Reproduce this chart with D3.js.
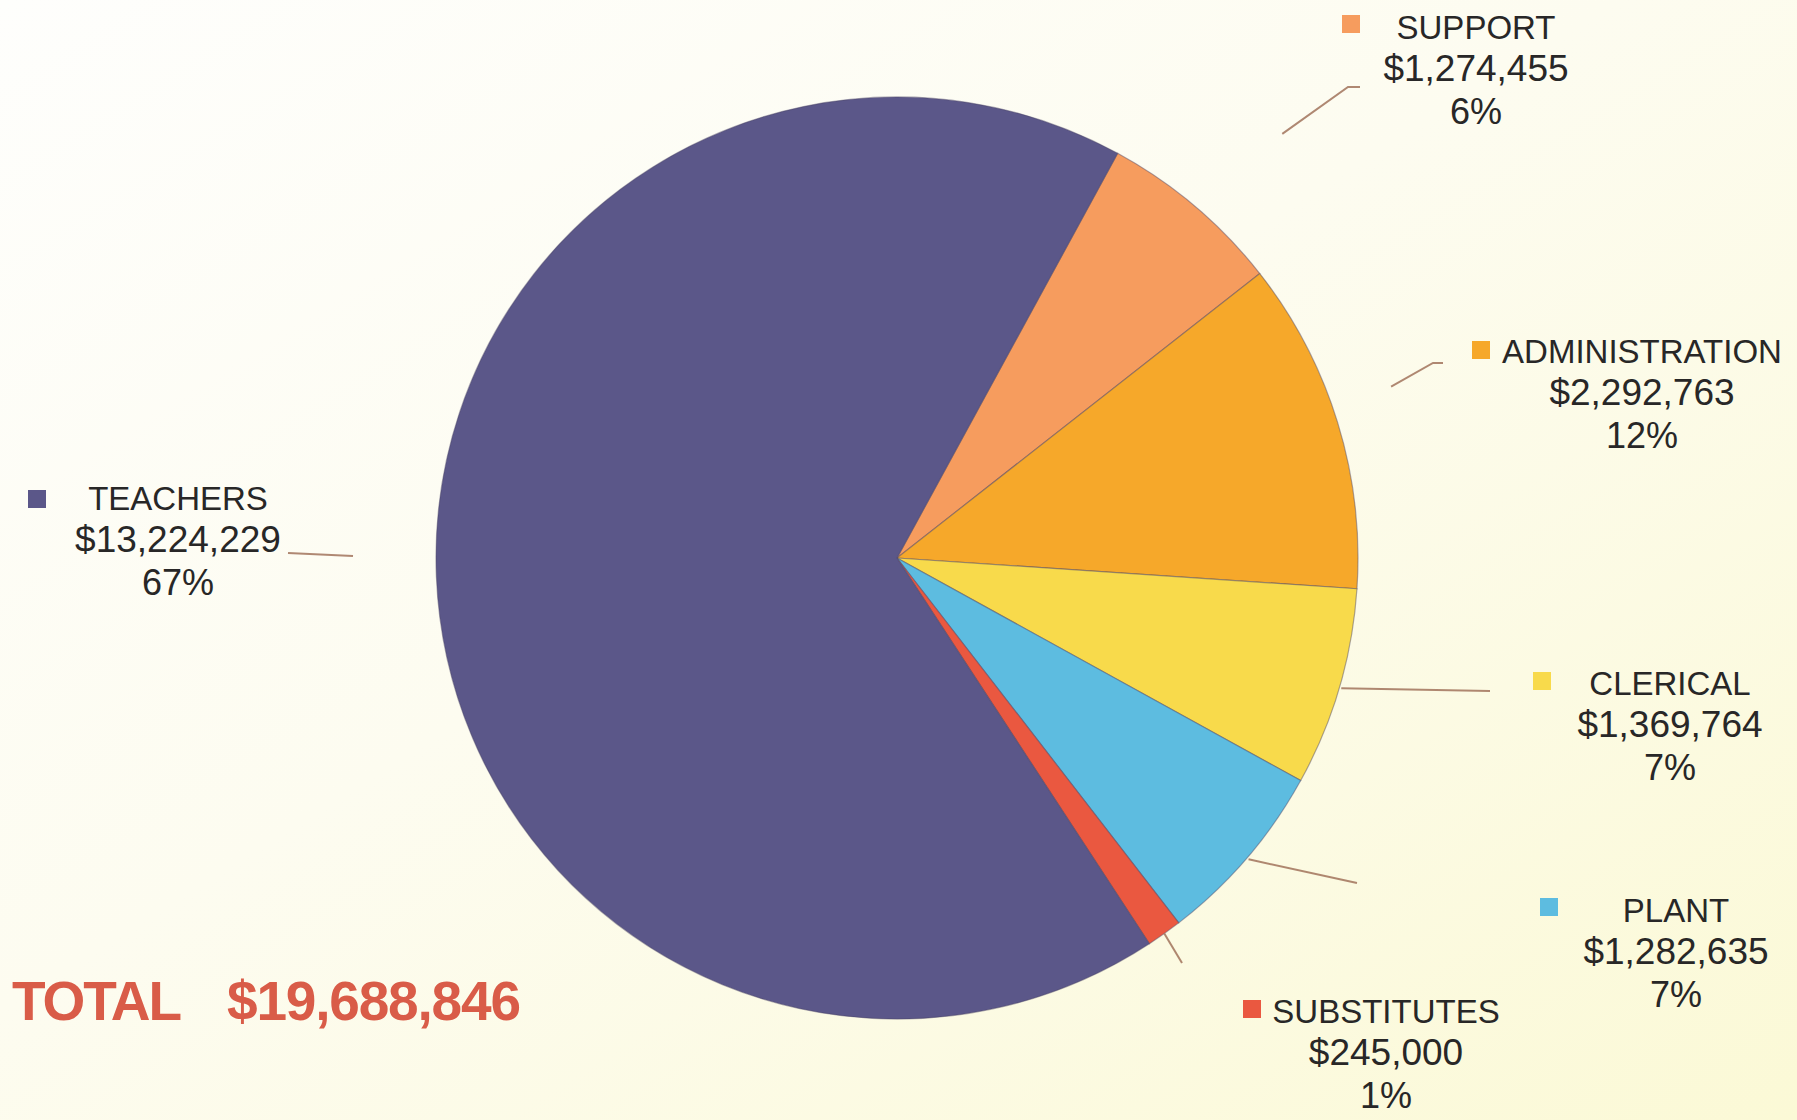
<!DOCTYPE html>
<html>
<head>
<meta charset="utf-8">
<script src="https://cdn.jsdelivr.net/npm/d3@7"></script>
<style>
  html, body { margin: 0; padding: 0; overflow: hidden; }
  body { width: 1797px; height: 1120px; }
</style>
</head>
<body>
<div id="chart"></div>
<script>
// Data (pie order, clockwise)
var categories = ["SUPPORT", "ADMINISTRATION", "CLERICAL", "PLANT", "SUBSTITUTES", "TEACHERS"];
var amounts = [1274455, 2292763, 1369764, 1282635, 245000, 13224229];
var pctLabels = ["6%", "12%", "7%", "7%", "1%", "67%"];
var sliceColors = ["#f69c5e", "#f6a82a", "#f8da4b", "#5dbce0", "#ea5840", "#5b5789"];
var totalLabel = "TOTAL";
var totalAmount = 19688846;

// Label layout (centre x, first baseline, legend square, leader start radius/angle shift, leader end points)
var labelLayout = [
  { cx: 1476, y: 39,   sq: [1342, 15],   r0: 573, da: 2,   pts: [[1348, 87], [1360, 87]] },
  { cx: 1642, y: 363,  sq: [1472, 341],  r0: 523, da: -2,  pts: [[1433, 363], [1443, 363]] },
  { cx: 1670, y: 695,  sq: [1533, 672],  r0: 463, da: 0,   pts: [[1490, 691]] },
  { cx: 1676, y: 922,  sq: [1540, 898],  r0: 463, da: 0,   pts: [[1357, 883]] },
  { cx: 1386, y: 1023, sq: [1243, 1000], r0: 461, da: 0,   pts: [[1182, 963]] },
  { cx: 178,  y: 510,  sq: [28, 490],    r0: 544, da: 2.5, pts: [[288, 553]] }
];

var svgWidth = 1797;
var svgHeight = 1120;
var cx = 897, cy = 558, radius = 461;

var svg = d3.select("#chart")
  .append("svg")
  .attr("width", svgWidth)
  .attr("height", svgHeight);

// Background: creamy paper, whiter top-left, yellower bottom-right
var defs = svg.append("defs");
var grad = defs.append("linearGradient")
  .attr("id", "bg")
  .attr("x1", "0").attr("y1", "0").attr("x2", "1").attr("y2", "1");
grad.append("stop").attr("offset", "0").attr("stop-color", "#fefefc");
grad.append("stop").attr("offset", "0.45").attr("stop-color", "#fdfcf0");
grad.append("stop").attr("offset", "1").attr("stop-color", "#fbf9d6");

svg.append("rect")
  .attr("width", svgWidth)
  .attr("height", svgHeight)
  .attr("fill", "url(#bg)");

var fmtMoney = d3.format("$,");

var pie = d3.pie()
  .sort(null)
  .value(d => d)
  .startAngle(28.6 * Math.PI / 180)
  .endAngle(28.6 * Math.PI / 180 + 2 * Math.PI);

var arcs = pie(amounts);

var arc = d3.arc().innerRadius(0).outerRadius(radius);

var pieGroup = svg.append("g")
  .attr("transform", `translate(${cx}, ${cy})`);

pieGroup.selectAll("path")
  .data(arcs)
  .enter()
  .append("path")
  .attr("d", arc)
  .attr("fill", (d, i) => sliceColors[i])
  .attr("stroke", "#4b4566")
  .attr("stroke-opacity", 0.45)
  .attr("stroke-width", 1.2);

// Leader lines from each slice's mid angle
var leaderGroup = svg.append("g");
arcs.forEach(function(d, i) {
  var lay = labelLayout[i];
  var mid = (d.startAngle + d.endAngle) / 2 + lay.da * Math.PI / 180;
  var start = [cx + lay.r0 * Math.sin(mid), cy - lay.r0 * Math.cos(mid)];
  var pts = [start].concat(lay.pts);
  leaderGroup.append("path")
    .attr("d", d3.line()(pts))
    .attr("fill", "none")
    .attr("stroke", "#9b6a52")
    .attr("stroke-width", 2)
    .attr("stroke-opacity", 0.8);
});

// Labels
var labelGroup = svg.append("g")
  .attr("font-family", "'Liberation Sans', Arial, sans-serif")
  .attr("fill", "#282727");

categories.forEach(function(name, i) {
  var lay = labelLayout[i];
  labelGroup.append("rect")
    .attr("x", lay.sq[0])
    .attr("y", lay.sq[1])
    .attr("width", 18)
    .attr("height", 18)
    .attr("fill", sliceColors[i]);

  var t = labelGroup.append("text")
    .attr("text-anchor", "middle");
  t.append("tspan").attr("x", lay.cx).attr("y", lay.y)
    .attr("font-size", "33px").text(name);
  t.append("tspan").attr("x", lay.cx).attr("y", lay.y + 42)
    .attr("font-size", "37px").text(fmtMoney(amounts[i]));
  t.append("tspan").attr("x", lay.cx).attr("y", lay.y + 85)
    .attr("font-size", "36px").text(pctLabels[i]);
});

// Total
var totalGroup = svg.append("g")
  .attr("font-family", "'Liberation Sans', Arial, sans-serif")
  .attr("font-weight", "bold")
  .attr("font-size", "55px")
  .attr("fill", "#d95c48");

totalGroup.append("text")
  .attr("x", 12)
  .attr("y", 1020)
  .attr("textLength", 170)
  .text(totalLabel);

totalGroup.append("text")
  .attr("x", 227)
  .attr("y", 1020)
  .attr("textLength", 294)
  .text(fmtMoney(totalAmount));
</script>
</body>
</html>
